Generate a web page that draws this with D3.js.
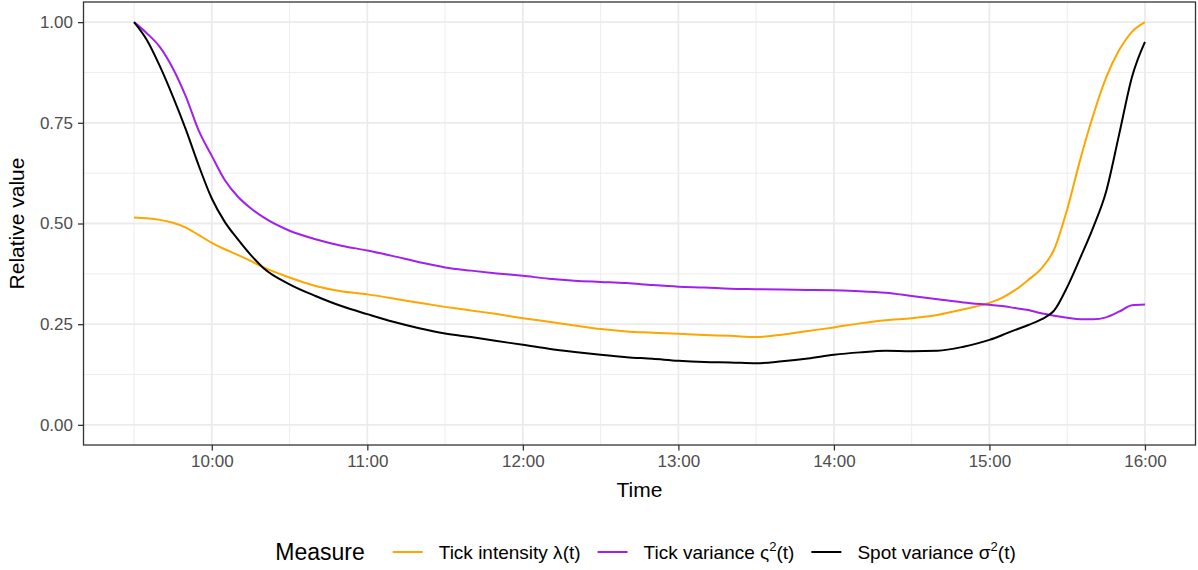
<!DOCTYPE html>
<html>
<head>
<meta charset="utf-8">
<script src="https://cdn.jsdelivr.net/npm/d3@7"></script>
<style>
  body { margin: 0; background: #fff; }
  text { font-family: "Liberation Sans", Arial, sans-serif; }
</style>
</head>
<body>
<div id="chart"></div>
<script>
// Data
const times = ["9:30","9:35","9:40","9:45","9:50","9:55","10:00","10:05","10:10","10:15","10:20",
  "10:30","10:40","10:50","11:00","11:10","11:20","11:30","11:40","11:50","12:00",
  "12:10","12:20","12:30","12:40","12:50","13:00","13:10","13:20","13:30","13:40",
  "13:50","14:00","14:10","14:20","14:30","14:40","14:50","15:00",
  "15:05","15:10","15:15","15:20","15:25","15:30","15:35","15:40","15:45","15:50","15:55","16:00"];

const tickIntensity = [0.515,0.513,0.509,0.502,0.490,0.471,0.452,0.436,0.422,0.407,0.391,
  0.366,0.345,0.332,0.324,0.314,0.303,0.293,0.284,0.275,0.265,
  0.256,0.247,0.238,0.232,0.229,0.226,0.223,0.221,0.218,0.224,
  0.233,0.242,0.252,0.260,0.265,0.273,0.287,0.303,
  0.316,0.335,0.360,0.388,0.436,0.535,0.658,0.768,0.862,0.930,0.976,1.000];

const tickVariance = [1.000,0.972,0.938,0.885,0.815,0.730,0.668,0.608,0.567,0.538,0.515,
  0.482,0.461,0.445,0.433,0.419,0.404,0.391,0.383,0.376,0.370,
  0.363,0.358,0.355,0.352,0.347,0.343,0.341,0.338,0.337,0.336,
  0.335,0.334,0.332,0.328,0.320,0.312,0.304,0.298,
  0.295,0.290,0.285,0.277,0.271,0.266,0.262,0.262,0.267,0.281,0.297,0.299];

const spotVariance = [1.000,0.955,0.890,0.815,0.733,0.643,0.562,0.504,0.461,0.422,0.389,
  0.349,0.320,0.295,0.275,0.256,0.240,0.227,0.218,0.208,0.199,
  0.189,0.181,0.174,0.168,0.164,0.159,0.156,0.155,0.153,0.158,
  0.165,0.174,0.180,0.184,0.183,0.184,0.194,0.211,
  0.223,0.236,0.248,0.262,0.284,0.342,0.414,0.490,0.579,0.720,0.864,0.951];

const xMajor = ["10:00","11:00","12:00","13:00","14:00","15:00","16:00"];
const xMinor = ["9:30","10:30","11:30","12:30","13:30","14:30","15:30"];
const yMajor = [0, 0.25, 0.5, 0.75, 1];
const yMinor = [0.125, 0.375, 0.625, 0.875];

const seriesNames = ["Tick intensity λ", "Tick variance ς", "Spot variance σ"];
const seriesSup = ["", "2", "2"];
const seriesColors = ["#FFA500", "#A020F0", "#000000"];

// SVG setup
const W = 1198, H = 570;
const margin = { top: 2, right: 2.5, bottom: 125, left: 83.5 };
const width = W - margin.left - margin.right;
const height = H - margin.top - margin.bottom;

const parse = d3.timeParse("%H:%M");

const svgRoot = d3.select("#chart").append("svg")
  .attr("width", W)
  .attr("height", H);

const svg = svgRoot.append("g")
  .attr("transform", `translate(${margin.left},${margin.top})`);

// Scales, with ggplot-like 5% expansion
const t0 = parse(times[0]), t1 = parse(times[times.length - 1]);
const pad = (t1 - t0) * 0.05;
const x = d3.scaleTime()
  .domain([new Date(+t0 - pad), new Date(+t1 + pad)])
  .range([0, width]);
const y = d3.scaleLinear()
  .domain([-0.05, 1.05])
  .range([height, 0]);

// Grid
function grid(vals, isX, sw) {
  svg.append("g").selectAll("line")
    .data(vals)
    .join("line")
      .attr("x1", d => isX ? x(d) : 0).attr("x2", d => isX ? x(d) : width)
      .attr("y1", d => isX ? 0 : y(d)).attr("y2", d => isX ? height : y(d))
      .attr("stroke", "#ebebeb").attr("stroke-width", sw);
}
grid(xMinor.map(parse), true, 0.9);
grid(yMinor, false, 0.9);
grid(xMajor.map(parse), true, 1.8);
grid(yMajor, false, 1.8);

// Lines
const line = d3.line()
  .curve(d3.curveMonotoneX)
  .x(d => x(d.t))
  .y(d => y(d.v));

[tickIntensity, tickVariance, spotVariance].forEach((vals, i) => {
  const data = times.map((t, j) => ({ t: parse(t), v: vals[j] }));
  svg.append("path")
    .datum(data)
    .attr("fill", "none")
    .attr("stroke", seriesColors[i])
    .attr("stroke-width", 2)
    .attr("stroke-linejoin", "round")
    .attr("d", line);
});

// Border
svg.append("rect")
  .attr("width", width).attr("height", height)
  .attr("fill", "none")
  .attr("stroke", "#333333")
  .attr("stroke-width", 1.3);

// Axes
const xAxis = svg.append("g")
  .attr("transform", `translate(0,${height})`)
  .call(d3.axisBottom(x)
    .tickValues(xMajor.map(parse))
    .tickFormat(d3.timeFormat("%H:%M"))
    .tickSize(5.5)
    .tickPadding(4));
const yAxis = svg.append("g")
  .call(d3.axisLeft(y)
    .tickValues(yMajor)
    .tickFormat(d3.format(".2f"))
    .tickSize(5.5)
    .tickPadding(5));

[xAxis, yAxis].forEach(a => {
  a.select(".domain").remove();
  a.selectAll(".tick line").attr("stroke", "#333333").attr("stroke-width", 1.3);
  a.selectAll(".tick text")
    .attr("fill", "#4d4d4d")
    .style("font-size", "17px")
    .style("font-family", "'Liberation Sans', Arial, sans-serif");
});

// Axis titles
svgRoot.append("text")
  .attr("x", margin.left + width / 2)
  .attr("y", 497)
  .attr("text-anchor", "middle")
  .style("font-size", "21px")
  .text("Time");

svgRoot.append("text")
  .attr("transform", `translate(24,${margin.top + height / 2}) rotate(-90)`)
  .attr("text-anchor", "middle")
  .style("font-size", "21px")
  .text("Relative value");

// Legend
const legend = svgRoot.append("g").attr("class", "legend");
const legY = 552;
let cx = 0;
const title = legend.append("text")
  .attr("x", cx).attr("y", legY + 8)
  .style("font-size", "23px")
  .text("Measure");
cx += title.node().getComputedTextLength() + 28;

seriesNames.forEach((name, i) => {
  legend.append("line")
    .attr("x1", cx).attr("x2", cx + 30)
    .attr("y1", legY).attr("y2", legY)
    .attr("stroke", seriesColors[i])
    .attr("stroke-width", 2);
  cx += 30 + 16;
  const txt = legend.append("text")
    .attr("x", cx).attr("y", legY + 6.5)
    .style("font-size", "19px");
  txt.append("tspan").text(name);
  if (seriesSup[i]) {
    txt.append("tspan").attr("dy", -8).style("font-size", "13px").text(seriesSup[i]);
    txt.append("tspan").attr("dy", 8).text("(t)");
  } else {
    txt.append("tspan").text("(t)");
  }
  cx += txt.node().getComputedTextLength() + 17;
});
const legW = cx - 17;
legend.attr("transform", `translate(${645.5 - legW / 2},0)`);
</script>
</body>
</html>
